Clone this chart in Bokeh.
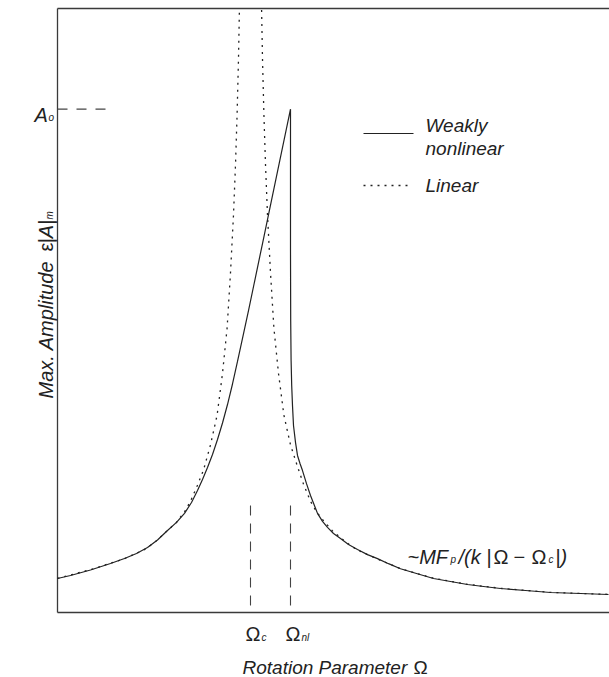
import math
from bokeh.plotting import figure
from bokeh.models import Range1d, Label
from bokeh.embed import file_html
from bokeh.resources import INLINE

# ---- data ----
omega_c = 1.0      # critical rotation parameter
omega_nl = 1.2     # nonlinear jump location
amp_o = 1.0        # peak amplitude A_o
marker_top = 0.2126  # height of the marker dashes at Omega_c / Omega_nl

# weakly nonlinear response (solid)
nl_omega = [0.035, 0.10, 0.20, 0.30, 0.37, 0.43, 0.485, 0.535, 0.585, 0.63, 0.67, 0.705,
            0.735, 0.76, 0.785, 0.81, 0.835, 0.86, 0.885, 0.91, 0.935, 0.96, 0.99,
            1.025, 1.06, 1.10, 1.15, 1.20,
            1.20, 1.201, 1.203, 1.206, 1.21, 1.215, 1.225, 1.235, 1.2475, 1.26, 1.28, 1.30,
            1.335, 1.36, 1.385, 1.415, 1.45, 1.49, 1.535, 1.585, 1.635, 1.69, 1.75, 1.83,
            1.915, 2.00, 2.085, 2.165, 2.25, 2.375, 2.50, 2.65, 2.79]
nl_amp = [0.0676, 0.0735, 0.0844, 0.0974, 0.1073, 0.1172, 0.129, 0.144, 0.163, 0.179, 0.197, 0.2185,
          0.2424, 0.2642, 0.2881, 0.3139, 0.3437, 0.3765, 0.4132, 0.454, 0.4987, 0.5444, 0.600,
          0.6664, 0.7331, 0.8092, 0.9046, 1.0,
          0.719, 0.580, 0.5007, 0.451, 0.411, 0.3715, 0.338, 0.312, 0.296, 0.282, 0.256, 0.2325,
          0.197, 0.181, 0.169, 0.157, 0.147, 0.135, 0.125, 0.115, 0.107, 0.097, 0.087, 0.0775,
          0.0676, 0.0616, 0.0556, 0.0517, 0.0477, 0.0437, 0.0397, 0.0377, 0.0358]

# linear response (dotted): branch left of Omega_c and branch right of it
lin_left_omega = [0.035, 0.20, 0.37, 0.47, 0.52, 0.585, 0.63, 0.67, 0.70, 0.735, 0.765,
                  0.80, 0.833, 0.86, 0.883, 0.90, 0.915, 0.925, 0.933, 0.94, 0.9445]
lin_left_amp = [0.068, 0.085, 0.107, 0.125, 0.139, 0.163, 0.179, 0.200, 0.221, 0.253, 0.283,
                0.333, 0.392, 0.475, 0.565, 0.675, 0.79, 0.89, 0.99, 1.10, 1.197]
lin_right_omega = [1.0555, 1.06, 1.067, 1.075, 1.085, 1.10, 1.117, 1.14, 1.167, 1.20, 1.235,
                   1.265, 1.30, 1.33, 1.37, 1.415, 1.48, 1.53, 1.63, 1.75, 1.915, 2.085,
                   2.25, 2.50, 2.79]
lin_right_amp = [1.197, 1.10, 0.99, 0.89, 0.79, 0.675, 0.565, 0.475, 0.392, 0.333, 0.290,
                 0.255, 0.221, 0.200, 0.180, 0.160, 0.139, 0.125, 0.107, 0.087, 0.068, 0.056,
                 0.048, 0.040, 0.036]

# ---- layout helpers (page pixel -> data, for frame lines and annotations) ----
SX = 200.0
SY = 503.33
def X(px):
    return (px - 50.0) / SX
def Y(py):
    return (612.0 - py) / SY

W, H = 609, 677
FONT = "Liberation Sans"
INK = "#222222"
AXC = "#3a3a3a"

p = figure(width=W, height=H, output_backend="svg", toolbar_location=None,
           x_range=Range1d(X(0), X(W)), y_range=Range1d(Y(H), Y(0)),
           min_border_left=0, min_border_right=0, min_border_top=0, min_border_bottom=0)
p.outline_line_color = None
p.axis.visible = False
p.xgrid.visible = False
p.ygrid.visible = False

# axis box (left, bottom, top)
p.line([X(57), X(57)], [Y(8), 0], line_color=AXC, line_width=1.3)
p.line([X(57), X(W)], [0, 0], line_color=AXC, line_width=1.3)
p.line([X(57), X(W)], [Y(8), Y(8)], line_color=AXC, line_width=1.3)

# curves
p.line(lin_left_omega, lin_left_amp, line_color=INK, line_width=1.3, line_dash="2 5")
p.line(lin_right_omega, lin_right_amp, line_color=INK, line_width=1.3, line_dash="2 5")
p.line(nl_omega, nl_amp, line_color=INK, line_width=1.2)

# reference dashes
p.line([X(57), X(112)], [amp_o, amp_o], line_color="#444444", line_width=1.1, line_dash="10 9")
p.line([omega_c, omega_c], [marker_top, 0], line_color="#444444", line_width=1.1, line_dash="10 8")
p.line([omega_nl, omega_nl], [marker_top, 0], line_color="#444444", line_width=1.1, line_dash="10 8")

def lab(px, py, text, size=20, angle=0.0, style="italic"):
    p.add_layout(Label(x=X(px), y=Y(py), text=text, text_font=FONT, text_font_style=style,
                       text_font_size=f"{size}px", text_color=INK, text_align="left",
                       text_baseline="alphabetic", angle=angle))

# legend
p.line([X(363), X(413)], [Y(133), Y(133)], line_color=INK, line_width=1.2)
p.line([X(363), X(411)], [Y(185), Y(185)], line_color=INK, line_width=1.3, line_dash="2 5")
lab(425, 125, "Weakly", size=19)
lab(425, 148, "nonlinear", size=19)
lab(425, 185, "Linear", size=19)

# A_o
lab(34, 114, "A")
lab(48, 117, "o", size=10)

# Omega_c, Omega_nl
lab(245, 633, "Ω", style="normal")
lab(261, 637, "c", size=10)
lab(285, 633, "Ω", style="normal")
lab(301, 637, "nl", size=10)

# asymptote formula
by = 556
lab(407, by, "~MF")
lab(450, by + 3, "p", size=10)
lab(458, by, "/(k")
lab(486, by, "|", style="normal")
lab(493, by, "Ω", style="normal")
lab(513, by, "−", style="normal")
lab(531, by, "Ω", style="normal")
lab(548, by + 3, "c", size=10)
lab(555, by, "|", style="normal")
lab(560, by, ")")

# axis titles
lab(242, 667, "Rotation Parameter", size=19)
lab(413, 667, "Ω", size=19, style="normal")
a90 = math.pi / 2
lab(45, 398, "Max. Amplitude", angle=a90)
lab(45, 251, "ε", angle=a90, style="normal")
lab(45, 243, "|A|", angle=a90)
lab(49, 219, "m", size=10, angle=a90)

open("out.html", "w").write(file_html(p, INLINE))
